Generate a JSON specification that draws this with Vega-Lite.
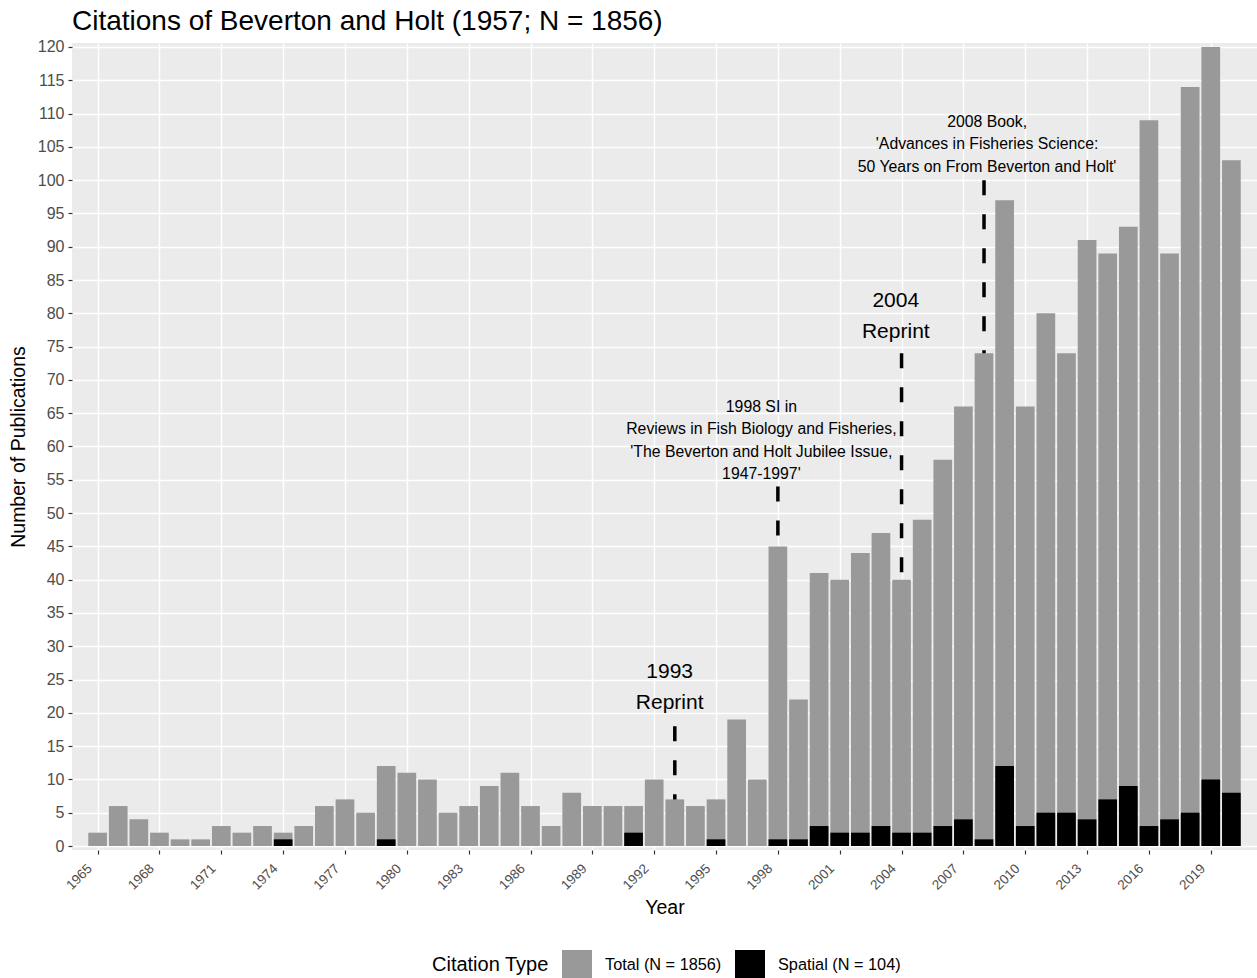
{
  "$schema": "https://vega.github.io/schema/vega-lite/v6.json",
  "width": 1185,
  "height": 807,
  "autosize": {"type": "none"},
  "padding": {"left": 72, "top": 43, "right": 0, "bottom": 128},
  "background": "white",
  "title": {
    "text": "Citations of Beverton and Holt (1957; N = 1856)",
    "anchor": "start",
    "frame": "group",
    "fontSize": 28,
    "font": "Liberation Sans",
    "fontWeight": "normal",
    "color": "black",
    "offset": 3
  },
  "config": {
    "view": {"fill": "#EBEBEB", "stroke": null},
    "font": "Liberation Sans",
    "axis": {
      "domain": false,
      "grid": true,
      "gridColor": "white",
      "gridWidth": 1.4,
      "tickColor": "#333333",
      "tickSize": 4,
      "tickWidth": 1.2,
      "labelColor": "#4D4D4D",
      "labelFont": "Liberation Sans",
      "labelFontSize": 16,
      "labelOverlap": false,
      "titleFont": "Liberation Sans",
      "titleFontSize": 19.5,
      "titleFontWeight": "normal",
      "titleColor": "black"
    },
    "legend": {
      "labelFont": "Liberation Sans",
      "titleFont": "Liberation Sans"
    }
  },
  "datasets": {
    "cites": [
      {"year": 1965, "total": 2, "spatial": 0},
      {"year": 1966, "total": 6, "spatial": 0},
      {"year": 1967, "total": 4, "spatial": 0},
      {"year": 1968, "total": 2, "spatial": 0},
      {"year": 1969, "total": 1, "spatial": 0},
      {"year": 1970, "total": 1, "spatial": 0},
      {"year": 1971, "total": 3, "spatial": 0},
      {"year": 1972, "total": 2, "spatial": 0},
      {"year": 1973, "total": 3, "spatial": 0},
      {"year": 1974, "total": 2, "spatial": 1},
      {"year": 1975, "total": 3, "spatial": 0},
      {"year": 1976, "total": 6, "spatial": 0},
      {"year": 1977, "total": 7, "spatial": 0},
      {"year": 1978, "total": 5, "spatial": 0},
      {"year": 1979, "total": 12, "spatial": 1},
      {"year": 1980, "total": 11, "spatial": 0},
      {"year": 1981, "total": 10, "spatial": 0},
      {"year": 1982, "total": 5, "spatial": 0},
      {"year": 1983, "total": 6, "spatial": 0},
      {"year": 1984, "total": 9, "spatial": 0},
      {"year": 1985, "total": 11, "spatial": 0},
      {"year": 1986, "total": 6, "spatial": 0},
      {"year": 1987, "total": 3, "spatial": 0},
      {"year": 1988, "total": 8, "spatial": 0},
      {"year": 1989, "total": 6, "spatial": 0},
      {"year": 1990, "total": 6, "spatial": 0},
      {"year": 1991, "total": 6, "spatial": 2},
      {"year": 1992, "total": 10, "spatial": 0},
      {"year": 1993, "total": 7, "spatial": 0},
      {"year": 1994, "total": 6, "spatial": 0},
      {"year": 1995, "total": 7, "spatial": 1},
      {"year": 1996, "total": 19, "spatial": 0},
      {"year": 1997, "total": 10, "spatial": 0},
      {"year": 1998, "total": 45, "spatial": 1},
      {"year": 1999, "total": 22, "spatial": 1},
      {"year": 2000, "total": 41, "spatial": 3},
      {"year": 2001, "total": 40, "spatial": 2},
      {"year": 2002, "total": 44, "spatial": 2},
      {"year": 2003, "total": 47, "spatial": 3},
      {"year": 2004, "total": 40, "spatial": 2},
      {"year": 2005, "total": 49, "spatial": 2},
      {"year": 2006, "total": 58, "spatial": 3},
      {"year": 2007, "total": 66, "spatial": 4},
      {"year": 2008, "total": 74, "spatial": 1},
      {"year": 2009, "total": 97, "spatial": 12},
      {"year": 2010, "total": 66, "spatial": 3},
      {"year": 2011, "total": 80, "spatial": 5},
      {"year": 2012, "total": 74, "spatial": 5},
      {"year": 2013, "total": 91, "spatial": 4},
      {"year": 2014, "total": 89, "spatial": 7},
      {"year": 2015, "total": 93, "spatial": 9},
      {"year": 2016, "total": 109, "spatial": 3},
      {"year": 2017, "total": 89, "spatial": 4},
      {"year": 2018, "total": 114, "spatial": 5},
      {"year": 2019, "total": 120, "spatial": 10},
      {"year": 2020, "total": 103, "spatial": 8}
    ],
    "lines": [
      {"year": 1993, "top": 18, "bottom": 7},
      {"year": 1998, "top": 54, "bottom": 45},
      {"year": 2004, "top": 74, "bottom": 40},
      {"year": 2008, "top": 100, "bottom": 74}
    ],
    "reprints": [
      {"x": 1992.75, "y": 26.2, "label": ["1993", "Reprint"]},
      {"x": 2003.72, "y": 81.8, "label": ["2004", "Reprint"]}
    ],
    "specials": [
      {"x": 1997.2, "y": 66.0, "label": ["1998 SI in", "Reviews in Fish Biology and Fisheries,", "'The Beverton and Holt Jubilee Issue,", "1947-1997'"]},
      {"x": 2008.15, "y": 108.8, "label": ["2008 Book,", "'Advances in Fisheries Science:", "50 Years on From Beverton and Holt'"]}
    ]
  },
  "encoding": {
    "x": {
      "type": "quantitative",
      "scale": {"domain": [1964, 2021], "nice": false, "zero": false},
      "axis": {
        "title": "Year",
        "values": [1965, 1968, 1971, 1974, 1977, 1980, 1983, 1986, 1989, 1992, 1995, 1998, 2001, 2004, 2007, 2010, 2013, 2016, 2019],
        "format": "d",
        "labelAngle": -45,
        "labelAlign": "right",
        "labelBaseline": "middle",
        "labelFontSize": 13.5,
        "labelPadding": 12,
        "labelOffset": -8,
        "titlePadding": 7
      }
    },
    "y": {
      "type": "quantitative",
      "scale": {"domain": [-0.6, 120.6], "nice": false, "zero": false},
      "axis": {
        "title": "Number of Publications",
        "values": [0, 5, 10, 15, 20, 25, 30, 35, 40, 45, 50, 55, 60, 65, 70, 75, 80, 85, 90, 95, 100, 105, 110, 115, 120],
        "labelOverlap": false,
        "labelPadding": 4,
        "titlePadding": 9
      }
    }
  },
  "layer": [
    {
      "data": {"name": "cites"},
      "mark": {"type": "bar", "orient": "vertical", "size": 18.7},
      "encoding": {
        "x": {"field": "year"},
        "y": {"field": "total", "stack": null},
        "color": {
          "datum": "Total (N = 1856)",
          "type": "nominal",
          "scale": {"domain": ["Total (N = 1856)", "Spatial (N = 104)"], "range": ["#999999", "#000000"]},
          "legend": {
            "title": "Citation Type",
            "orient": "none",
            "legendX": 360,
            "legendY": 907,
            "direction": "horizontal",
            "titleOrient": "left",
            "titleFontSize": 20,
            "titleFontWeight": "normal",
            "titleColor": "black",
            "titlePadding": 13,
            "titleBaseline": "middle",
            "symbolType": "square",
            "symbolSize": 900,
            "symbolStrokeWidth": 0,
            "symbolOpacity": 1,
            "labelFontSize": 16.3,
            "labelColor": "black",
            "labelOffset": 13,
            "columnPadding": 13
          }
        }
      }
    },
    {
      "data": {"name": "cites"},
      "mark": {"type": "bar", "orient": "vertical", "size": 18.7},
      "encoding": {
        "x": {"field": "year"},
        "y": {"field": "spatial", "stack": null},
        "color": {"datum": "Spatial (N = 104)", "type": "nominal"}
      }
    },
    {
      "data": {"name": "lines"},
      "mark": {"type": "rule", "color": "black", "strokeWidth": 3.5, "strokeDash": [15, 19], "strokeCap": "butt"},
      "encoding": {
        "x": {"field": "year"},
        "y": {"field": "top"},
        "y2": {"field": "bottom"}
      }
    },
    {
      "data": {"name": "reprints"},
      "mark": {"type": "text", "fontSize": 21, "lineHeight": 31, "align": "center", "baseline": "middle", "color": "black", "font": "Liberation Sans"},
      "encoding": {
        "x": {"field": "x"},
        "y": {"field": "y"},
        "text": {"field": "label"}
      }
    },
    {
      "data": {"name": "specials"},
      "mark": {"type": "text", "fontSize": 15.8, "lineHeight": 22.6, "align": "center", "baseline": "middle", "color": "black", "font": "Liberation Sans"},
      "encoding": {
        "x": {"field": "x"},
        "y": {"field": "y"},
        "text": {"field": "label"}
      }
    }
  ]
}
